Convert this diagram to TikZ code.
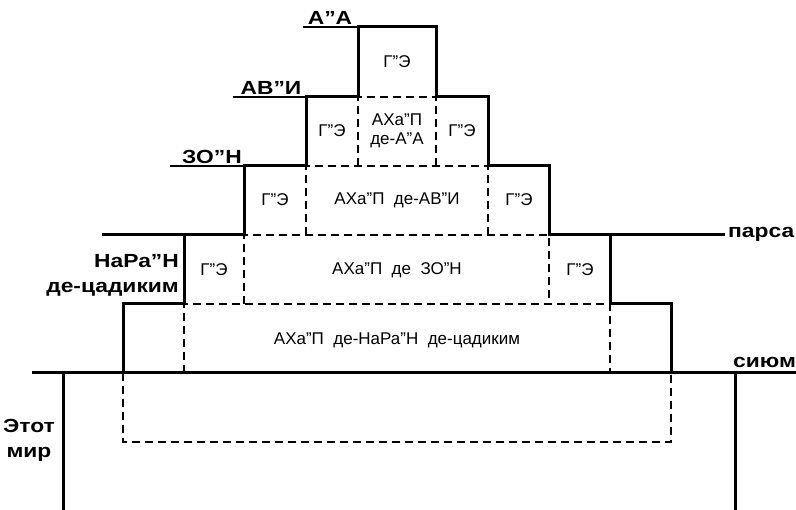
\documentclass[tikz,border=0pt]{standalone}
\usepackage{fontspec}
\setmainfont{Liberation Sans}
\newfontfamily\lvlfont{Liberation Sans}[FakeStretch=1.2]
\begin{document}
\begin{tikzpicture}[x=1pt,y=-1pt,
    wall/.style={line width=3pt},
    hidden/.style={line width=1.3pt, dash pattern=on 8pt off 5pt},
    leader/.style={line width=1.3pt},
    lvl/.style={font=\lvlfont\fontsize{19}{25}\selectfont\bfseries, inner sep=0pt},
    part/.style={font=\fontsize{17}{19}\selectfont, inner sep=0pt, align=center}]
  \useasboundingbox (0,0) rectangle (796,510);
  % outline of the partzufim
  \draw[wall] (102,235) -- (244,235) -- (244,166) -- (306,166) -- (306,97)
    -- (358,97) -- (358,27) -- (436,27) -- (436,97) -- (488,97) -- (488,166)
    -- (549,166) -- (549,235) -- (725,235);
  \draw[wall] (184,235) -- (184,304) -- (123,304) -- (123,373);
  \draw[wall] (610,235) -- (610,304) -- (671,304) -- (671,373);
  \draw[wall] (32,373) -- (796,373);
  \draw[wall] (63,373) -- (63,510);
  \draw[wall] (735,373) -- (735,510);
  % inner borders
  \draw[hidden] (358,166) -- (358,97) -- (436,97) -- (436,166);
  \draw[hidden] (306,235) -- (306,166) -- (488,166) -- (488,235);
  \draw[hidden] (244,304) -- (244,235) -- (549,235) -- (549,304);
  \draw[hidden] (184,373) -- (184,304) -- (610,304) -- (610,373);
  \draw[hidden] (123,373) -- (123,442) -- (671,442) -- (671,373);
  % leaders under the level names
  \draw[leader] (303,27) -- (358,27);
  \draw[leader] (233,97) -- (306,97);
  \draw[leader] (170,166) -- (244,166);
  % level names
  \node[lvl, anchor=south] (aa) at (330,25) {А”А};
  \node[lvl, anchor=south] (avi) at (271,95) {АВ”И};
  \node[lvl, anchor=south] (zon) at (212,164) {ЗО”Н};
  \node[lvl, anchor=east, align=right] (nrn) at (179,275) {НаРа”Н\\де-цадиким};
  \node[lvl, anchor=west] (parsa) at (728,234) {парса};
  \node[lvl, anchor=west] (sium) at (733,362) {сиюм};
  \node[lvl, align=center] (mir) at (29,440) {Этот\\мир};
  % parts
  \node[part] (ge1) at (397,62) {Г”Э};
  \node[part] (ge2l) at (332,131) {Г”Э};
  \node[part] (ahp1) at (397,131) {АХа”П\\де-А”А};
  \node[part] (ge2r) at (462,131) {Г”Э};
  \node[part] (ge3l) at (275,200) {Г”Э};
  \node[part] (ahp2) at (397,200) {АХа”П\ \ де-АВ”И};
  \node[part] (ge3r) at (519,200) {Г”Э};
  \node[part] (ge4l) at (214,270) {Г”Э};
  \node[part] (ahp3) at (397,270) {АХа”П\ \ де\ \ ЗО”Н};
  \node[part] (ge4r) at (580,270) {Г”Э};
  \node[part] (ahp4) at (397,340) {АХа”П\ \ де-НаРа”Н\ \ де-цадиким};
\end{tikzpicture}
\end{document}
